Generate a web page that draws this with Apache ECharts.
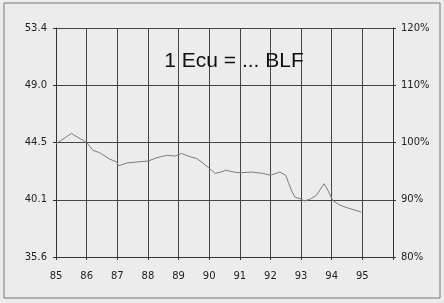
<!DOCTYPE html>
<html>
<head>
<meta charset="utf-8">
<script src="https://cdn.jsdelivr.net/npm/echarts@6/dist/echarts.min.js"></script>
<style>
  html, body { margin: 0; padding: 0; background: #ececec; }
  #chart { width: 444px; height: 303px; }
</style>
</head>
<body>
<div id="chart"></div>
<script>
// years (decimal) and exchange rate BLF per Ecu
const years = [85.0, 85.5, 86.0, 86.2, 86.43, 86.76, 86.97, 87.05, 87.3, 87.7, 88.0, 88.27, 88.6, 88.9, 89.1, 89.37, 89.6, 89.8, 90.0, 90.2, 90.38, 90.55, 90.8, 91.0, 91.4, 91.75, 92.0, 92.3, 92.5, 92.6, 92.7, 92.8, 93.0, 93.1, 93.3, 93.5, 93.75, 93.87, 94.03, 94.25, 94.6, 94.96]
const rates = [44.4, 45.2, 44.5, 43.9, 43.7, 43.2, 43.0, 42.7, 42.9, 43.0, 43.05, 43.3, 43.5, 43.45, 43.65, 43.4, 43.25, 42.9, 42.5, 42.1, 42.2, 42.35, 42.2, 42.15, 42.2, 42.1, 41.95, 42.2, 41.95, 41.3, 40.7, 40.25, 40.1, 39.95, 40.1, 40.4, 41.3, 40.8, 40.0, 39.65, 39.35, 39.1]
const leftLabels = ['35.6', '40.1', '44.5', '49.0', '53.4']
const rightLabels = ['80%', '90%', '100%', '110%', '120%']
const xLabels = ['85', '86', '87', '88', '89', '90', '91', '92', '93', '94', '95']

const chart = echarts.init(document.getElementById('chart'))

chart.setOption({
  backgroundColor: '#ececec',
  animation: false,
  title: {
    text: '1 Ecu = ... BLF',
    left: 229,
    top: 46,
    textAlign: 'center',
    textStyle: { fontFamily: 'Liberation Sans', fontSize: 21, fontWeight: 'normal', color: '#111' }
  },
  graphic: [{
    type: 'rect',
    shape: { x: 4, y: 3, width: 436, height: 295 },
    style: { fill: 'none', stroke: '#777', lineWidth: 1 },
    silent: true
  }],
  grid: { left: 56, right: 51, top: 28, bottom: 46 },
  xAxis: {
    type: 'value',
    min: 85,
    max: 96,
    interval: 1,
    axisLine: { show: true, lineStyle: { color: '#333', width: 1 } },
    axisTick: { show: true, length: 3, lineStyle: { color: '#333' } },
    axisLabel: {
      color: '#222',
      fontFamily: 'DejaVu Sans',
      fontSize: 10,
      margin: 14,
      formatter: v => xLabels[Math.round(v - 85)] || ''
    },
    splitLine: { show: true, lineStyle: { color: '#444', width: 1 } }
  },
  yAxis: [{
    type: 'value',
    position: 'left',
    min: 35.6,
    max: 53.4,
    interval: 4.45,
    axisLine: { show: true, lineStyle: { color: '#333', width: 1 } },
    axisTick: { show: true, length: 3, lineStyle: { color: '#333' } },
    axisLabel: {
      color: '#222',
      fontFamily: 'DejaVu Sans',
      fontSize: 10,
      margin: 9,
      formatter: v => leftLabels[Math.round((v - 35.6) / 4.45)] || ''
    },
    splitLine: { show: true, lineStyle: { color: '#444', width: 1 } }
  }, {
    type: 'value',
    position: 'right',
    min: 80,
    max: 120,
    interval: 10,
    axisLine: { show: true, lineStyle: { color: '#333', width: 1 } },
    axisTick: { show: true, length: 3, lineStyle: { color: '#333' } },
    axisLabel: {
      color: '#222',
      fontFamily: 'DejaVu Sans',
      fontSize: 10,
      margin: 8,
      formatter: v => rightLabels[Math.round((v - 80) / 10)] || ''
    },
    splitLine: { show: false }
  }],
  series: [{
    type: 'line',
    yAxisIndex: 0,
    data: years.map((y, i) => [y, rates[i]]),
    showSymbol: false,
    lineStyle: { color: '#7d7d7d', width: 1 }
  }]
})
</script>
</body>
</html>
